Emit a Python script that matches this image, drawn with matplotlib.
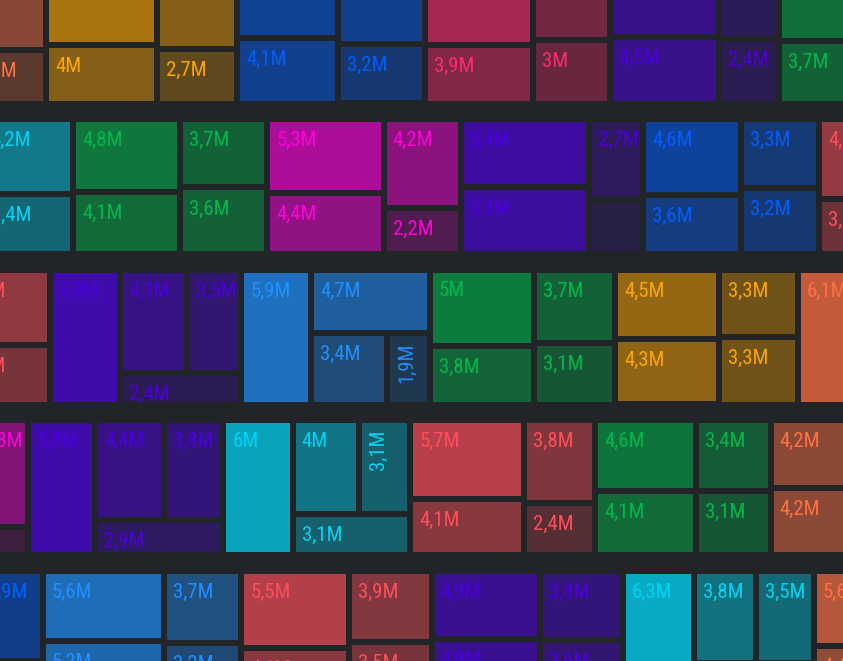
import matplotlib
matplotlib.use('Agg')
import matplotlib.pyplot as plt
from matplotlib.patches import Rectangle
from matplotlib import font_manager

BG = '#212528'

# hue of each group (label colour); cell fill is the hue faded into the background by value
HUES = {'orange': '#ff7043', 'amber': '#ffa500', 'navy': '#005eff', 'pink': '#ff2a6d',
        'purple': '#4b00e0', 'green': '#00b84d', 'cyan': '#00d4f5', 'magenta': '#ff00dc',
        'blue': '#1e90ff', 'red': '#ff4d5a'}

# values in millions; a group is a list of columns, a column is stacked top->bottom,
# a nested list inside a column is a row of cells side by side
band1 = [('orange', [[4.0, 2.6]]),
         ('amber', [[5.2, 4.0], [4.0, 2.7]]),
         ('navy', [[4.3, 4.1], [4.1, 3.2]]),
         ('pink', [[5.1, 3.9], [3.4, 3.0]]),
         ('purple', [[4.6, 4.5], [2.6, 2.4]]),
         ('green', [[4.3, 3.7]])]
band2 = [('cyan', [[4.2, 3.4]]),
         ('green', [[4.8, 4.1], [3.7, 3.6]]),
         ('magenta', [[5.3, 4.4], [4.2, 2.2]]),
         ('purple', [[5.4, 5.3], [2.7, 1.8]]),
         ('navy', [[4.6, 3.6], [3.3, 3.2]]),
         ('red', [[4.5, 3.1]])]
band3 = [('red', [[4.4, 3.5]]),
         ('purple', [[5.9], [[4.3, 3.5], 2.4]]),
         ('blue', [[5.9], [4.7, [3.4, 1.9]]]),
         ('green', [[5.0, 3.8], [3.7, 3.1]]),
         ('amber', [[4.5, 4.3], [3.3, 3.3]]),
         ('orange', [[6.1]])]
band4 = [('magenta', [[3.8, 1.0]]),
         ('purple', [[5.8], [[4.4, 3.8], 2.9]]),
         ('cyan', [[6.0], [[4.0, 3.1], 3.1]]),
         ('red', [[5.7, 4.1], [3.8, 2.4]]),
         ('green', [[4.6, 4.1], [3.4, 3.1]]),
         ('orange', [[4.2, 4.2]])]
band5 = [('navy', [[3.9, 1.9]]),
         ('blue', [[5.6, 5.2], [3.7, 3.2]]),
         ('red', [[5.5, 4.1], [3.9, 3.5]]),
         ('purple', [[4.9, 4.8], [3.8, 3.6]]),
         ('cyan', [[6.3], [[3.8, 3.5], 3.4]]),
         ('orange', [[5.6, 4.4]])]
bands = [band1, band2, band3, band4, band5]

# layout of the cropped view (pixels): scale per band and how far each band is cut on the left
band_scale = [12.0, 12.0, 11.87, 11.55, 11.2]
band_shift = [-33, -18.2, -43.8, -27.4, -22]
BAND_H = 135
BAND_STEP = 150.5
FIRST_TOP = -31.5
PAD = 3

names = {f.name for f in font_manager.fontManager.ttflist}
FONT = 'DejaVu Sans'
for fam in ['Liberation Sans Narrow', 'Arial Narrow', 'Roboto Condensed', 'Open Sans Condensed', 'Liberation Sans']:
    if fam in names:
        FONT = fam
        break


def total(n):
    return sum(total(c) for c in n) if isinstance(n, list) else n


def place(node, x0, y0, x1, y1, across, out):
    if not isinstance(node, list):
        out.append((node, x0, y0, x1, y1))
        return
    tot = total(node)
    pos = x0 if across else y0
    span = (x1 - x0) if across else (y1 - y0)
    for ch in node:
        d = total(ch) / tot * span
        if across:
            place(ch, pos, y0, pos + d, y1, False, out)
        else:
            place(ch, x0, pos, x1, pos + d, True, out)
        pos += d


def blend(hue, v):
    a = min(max((v - 0.6) / 7.5, 0.13), 0.85)
    h = matplotlib.colors.to_rgb(hue)
    b = matplotlib.colors.to_rgb(BG)
    return tuple(b[i] * (1 - a) + h[i] * a for i in range(3))


def fmt(v):
    s = ('%.1f' % v).replace('.', ',')
    if s.endswith(',0'):
        s = s[:-2]
    return s + 'M'


fig = plt.figure(figsize=(8.43, 6.61), dpi=100, facecolor=BG)
ax = fig.add_axes([0, 0, 1, 1])
ax.set_facecolor(BG)
ax.set_xlim(0, 843)
ax.set_ylim(661, 0)
ax.axis('off')

for bi, band in enumerate(bands):
    top = FIRST_TOP + bi * BAND_STEP
    k = band_scale[bi]
    x = band_shift[bi]
    for hue, cols in band:
        for col in cols:
            w = total(col) * k
            cells = []
            place(col, x, top, x + w, top + BAND_H, False, cells)
            x += w
            for v, x0, y0, x1, y1 in cells:
                x0, y0, x1, y1 = x0 + PAD, y0 + PAD, x1 - PAD, y1 - PAD
                r = Rectangle((x0, y0), x1 - x0, y1 - y0, facecolor=blend(HUES[hue], v),
                              edgecolor='none')
                ax.add_patch(r)
                if v < 1.85:
                    continue
                if x1 - x0 >= 47:
                    t = ax.text(x0 + 6, y0 + 9, fmt(v), color=HUES[hue], fontsize=15,
                                family=FONT, ha='left', va='top')
                else:
                    t = ax.text(x0 + 7, y0 + 7, fmt(v), color=HUES[hue], fontsize=15,
                                family=FONT, ha='right', va='top', rotation=90,
                                rotation_mode='anchor')
                t.set_clip_path(r)

fig.savefig('out.png', dpi=100, facecolor=BG)
